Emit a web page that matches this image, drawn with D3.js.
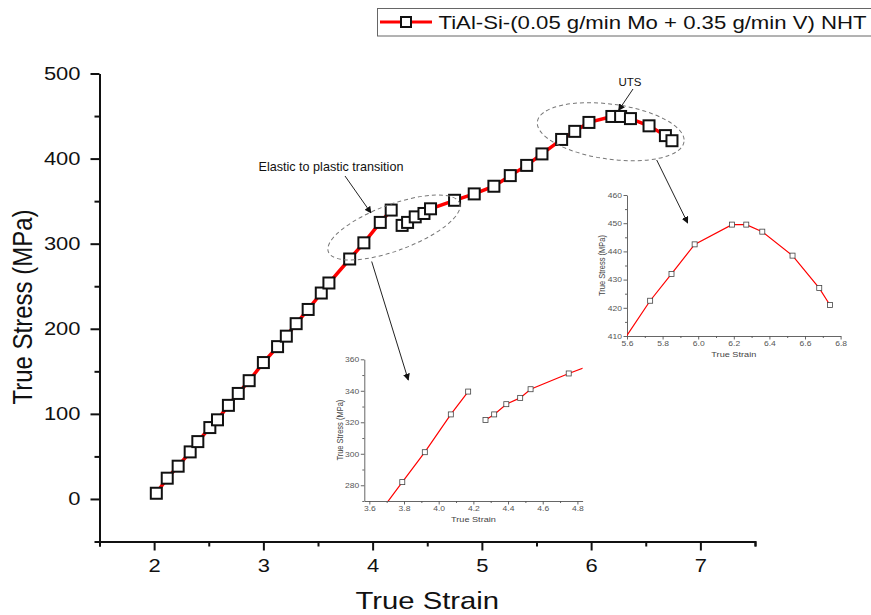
<!DOCTYPE html>
<html><head><meta charset="utf-8">
<script src="https://cdn.jsdelivr.net/npm/d3@7"></script>
<style>
body{margin:0;background:#fff}
svg{display:block}
text{font-family:Arial,"Liberation Sans",sans-serif}
</style>
</head><body>
<svg id="c" width="871" height="615"></svg>
<script>
// ---- data (null marks the break in the curve) ----
const strain = [2.02,2.12,2.22,2.33,2.40,2.51,2.58,2.68,2.77,2.87,3.00,3.13,3.21,3.30,3.41,3.53,3.60,3.79,3.92,4.07,4.17,null,4.27,4.32,4.39,4.47,4.53,4.75,4.93,5.11,5.26,5.41,5.55,5.73,5.85,5.98,6.19,6.27,6.36,6.53,6.68,6.74];
const stress = [6.7,24.4,38.5,55.3,67.4,83.9,93,110,124,139,160.3,179,191.3,206,222.7,242,253.8,282,301,325,339.5,null,321.5,325,331.5,335.5,341,351,358.5,367.5,380,392,405.5,422.5,432,442.5,449.5,449.5,447,438.5,427,421];
const seriesName = "TiAl-Si-(0.05 g/min Mo + 0.35 g/min V) NHT";
const xTicks = [2,3,4,5,6,7];
const xMinor = [1.5,2.5,3.5,4.5,5.5,6.5,7.5];
const yTicks = [0,100,200,300,400,500];
const yMinor = [-50,50,150,250,350,450];
const xTitle = "True Strain";
const yTitle = "True Stress (MPa)";
const inset1XTicks = [3.6,3.8,4.0,4.2,4.4,4.6,4.8];
const inset1YTicks = [280,300,320,340,360];
const inset2XTicks = [5.6,5.8,6.0,6.2,6.4,6.6,6.8];
const inset2YTicks = [410,420,430,440,450,460];
const note1 = "Elastic to plastic transition";
const note2 = "UTS";

const data = strain.map((s,i)=>({x:s,y:stress[i]}));
const pts = data.filter(d=>d.x!=null && d.y!=null);
const SX = 1.22; // horizontal stretch of the original picture's text

const svg = d3.select("#c");
const defs = svg.append("defs");
defs.append("marker").attr("id","ah").attr("viewBox","0 0 10 10").attr("refX",9).attr("refY",5)
  .attr("markerWidth",7).attr("markerHeight",7).attr("orient","auto").attr("markerUnits","userSpaceOnUse")
  .append("path").attr("d","M0,0L10,5L0,10Z").attr("fill","#111");

function txt(g,x,y,s,size,anchor,opts={}){
  const t = g.append("text").attr("font-size",size).attr("text-anchor",anchor||"start").attr("fill",opts.fill||"#111").text(s);
  let tr = `translate(${x},${y}) scale(${opts.sx||SX},1)`;
  if(opts.rot) tr += ` rotate(${opts.rot})`;
  t.attr("transform",tr);
  return t;
}

// ---- main scales ----
const x = d3.scaleLinear([1.5,7.5],[99.5,755]);
const y = d3.scaleLinear([-50,500],[541.5,73.5]);

// axes
const gx = svg.append("g").attr("transform",`translate(0,${y(-50)})`);
gx.call(d3.axisBottom(x).tickValues(xMinor).tickSize(5).tickSizeOuter(5).tickFormat(""));
const gx2 = svg.append("g").attr("transform",`translate(0,${y(-50)})`);
gx2.call(d3.axisBottom(x).tickValues(xTicks).tickSize(9).tickSizeOuter(0).tickPadding(9).tickFormat(d3.format("d")));
gx2.select(".domain").remove();
gx2.selectAll("text").attr("font-size",18).attr("fill","#111").attr("font-family","Arial,'Liberation Sans',sans-serif").attr("transform",`scale(${SX},1)`);

const gy = svg.append("g").attr("transform",`translate(${x(1.5)},0)`);
gy.call(d3.axisLeft(y).tickValues(yMinor).tickSize(5).tickSizeOuter(0).tickFormat(""));
const gy2 = svg.append("g").attr("transform",`translate(${x(1.5)},0)`);
gy2.call(d3.axisLeft(y).tickValues(yTicks).tickSize(9).tickSizeOuter(0).tickFormat(d3.format("d")));
gy2.select(".domain").remove();
gy2.selectAll("text").attr("font-size",18).attr("fill","#111").attr("font-family","Arial,'Liberation Sans',sans-serif")
  .attr("x",-19/SX).attr("transform",`scale(${SX},1)`);
[gx,gx2,gy,gy2].forEach(g=>{g.selectAll("path,line").attr("stroke","#111").attr("stroke-width",2);});

txt(svg,(x(1.5)+x(7.5))/2,609,xTitle,24,"middle");
txt(svg,32,307,yTitle,24,"middle",{rot:-90,sx:1.12});

// ---- main series ----
const line = d3.line().defined(d=>d.x!=null&&d.y!=null).x(d=>x(d.x)).y(d=>y(d.y));
svg.append("path").datum(data).attr("d",line).attr("fill","none").attr("stroke","#f00").attr("stroke-width",3.5);
const MS = 11;
svg.append("g").selectAll("rect").data(pts).join("rect")
  .attr("x",d=>x(d.x)-MS/2).attr("y",d=>y(d.y)-MS/2).attr("width",MS).attr("height",MS)
  .attr("fill","#fff").attr("stroke","#111").attr("stroke-width",2);

// ---- ellipses & annotations ----
const ann = svg.append("g");
ann.append("ellipse").attr("cx",394).attr("cy",227.5).attr("rx",70).attr("ry",23)
  .attr("transform","rotate(-20.3,394,227.5)").attr("fill","none").attr("stroke","#777").attr("stroke-width",1).attr("stroke-dasharray","4,3");
ann.append("ellipse").attr("cx",610.7).attr("cy",131.7).attr("rx",74).attr("ry",27.5)
  .attr("transform","rotate(7.8,610.7,131.7)").attr("fill","none").attr("stroke","#777").attr("stroke-width",1).attr("stroke-dasharray","4,3");
txt(ann,258.5,171,note1,12.6,"start",{sx:1.0});
txt(ann,618.5,86,note2,11.5,"start",{sx:1.0});
const arrows = [[345,176,371,213],[633,89,618.5,110.5],[371.7,261.5,408.3,380],[656.7,160,687.7,223]];
ann.selectAll("line.a").data(arrows).join("line").attr("class","a")
  .attr("x1",d=>d[0]).attr("y1",d=>d[1]).attr("x2",d=>d[2]).attr("y2",d=>d[3])
  .attr("stroke","#222").attr("stroke-width",1).attr("marker-end","url(#ah)");

// ---- insets ----
function inset(id,xd,xr,yd,yr,xt,yt,fmtX,fmtY,xMinorStep,yMinorStep,xLab,yLab){
  const ix = d3.scaleLinear(xd,xr), iy = d3.scaleLinear(yd,yr);
  const g = svg.append("g");
  defs.append("clipPath").attr("id",id).append("rect")
    .attr("x",xr[0]).attr("y",yr[1]).attr("width",xr[1]-xr[0]).attr("height",yr[0]-yr[1]);
  const xm = d3.range(xt[0]-xMinorStep, xt[xt.length-1]+xMinorStep*1.01, xMinorStep*2).map(v=>+(v).toFixed(3)).filter(v=>v>=xd[0]&&v<=xd[1]);
  const ym = d3.range(yt[0]-yMinorStep, yt[yt.length-1]+yMinorStep*1.01, yMinorStep*2).filter(v=>v>=yd[0]&&v<=yd[1]);
  const ax = g.append("g").attr("transform",`translate(0,${yr[0]})`);
  ax.call(d3.axisBottom(ix).tickValues(xm).tickSize(2).tickSizeOuter(0).tickFormat(""));
  const ax2 = g.append("g").attr("transform",`translate(0,${yr[0]})`);
  ax2.call(d3.axisBottom(ix).tickValues(xt).tickSize(3.5).tickSizeOuter(0).tickPadding(2).tickFormat(d3.format(fmtX)));
  ax2.select(".domain").remove();
  const ay = g.append("g").attr("transform",`translate(${xr[0]},0)`);
  ay.call(d3.axisLeft(iy).tickValues(ym).tickSize(2).tickSizeOuter(0).tickFormat(""));
  const ay2 = g.append("g").attr("transform",`translate(${xr[0]},0)`);
  ay2.call(d3.axisLeft(iy).tickValues(yt).tickSize(3.5).tickSizeOuter(0).tickPadding(2).tickFormat(d3.format(fmtY)));
  ay2.select(".domain").remove();
  [ax,ax2,ay,ay2].forEach(a=>{a.selectAll("path,line").attr("stroke","#555").attr("stroke-width",0.9);
    a.selectAll("text").attr("font-size",7).attr("fill","#555").attr("font-family","Arial,'Liberation Sans',sans-serif").attr("transform",`scale(${SX},1)`);});
  ay2.selectAll("text").attr("x",-5/SX);
  txt(g,(xr[0]+xr[1])/2,xLab[1],xTitle,7.5,"middle",{fill:"#444"});
  txt(g,yLab[0],(yr[0]+yr[1])/2,yTitle,7.5,"middle",{fill:"#444",rot:-90,sx:1.1});
  const il = d3.line().defined(d=>d.x!=null&&d.y!=null).x(d=>ix(d.x)).y(d=>iy(d.y));
  const pg = g.append("g").attr("clip-path",`url(#${id})`);
  pg.append("path").datum(data).attr("d",il).attr("fill","none").attr("stroke","#f00").attr("stroke-width",1.2);
  const s = 5;
  g.append("g").selectAll("rect").data(pts.filter(d=>d.x>=xd[0]&&d.x<=xd[1]&&d.y>=yd[0]&&d.y<=yd[1])).join("rect")
    .attr("x",d=>ix(d.x)-s/2).attr("y",d=>iy(d.y)-s/2).attr("width",s).attr("height",s)
    .attr("fill","#fff").attr("stroke","#444").attr("stroke-width",0.8);
}
inset("c1",[3.571,4.83],[364.3,582.6],[270,360],[501,359.3],inset1XTicks,inset1YTicks,".1f","d",0.1,10,[0,522],[343]);
inset("c2",[5.6,6.8],[627,840.6],[410,460],[336,195],inset2XTicks,inset2YTicks,".1f","d",0.1,5,[0,357],[605]);

// ---- legend ----
const lg = svg.append("g");
lg.append("rect").attr("x",377.5).attr("y",8.5).attr("width",520).attr("height",27.5).attr("fill","#fff").attr("stroke","#666").attr("stroke-width",1);
lg.append("line").attr("x1",380).attr("x2",432).attr("y1",22).attr("y2",22).attr("stroke","#f00").attr("stroke-width",3);
lg.append("rect").attr("x",406-5).attr("y",22-5).attr("width",10).attr("height",10).attr("fill","#fff").attr("stroke","#111").attr("stroke-width",2);
lg.append("text").attr("x",438.5).attr("y",28.5).attr("font-size",18).attr("fill","#111")
  .attr("textLength",428).attr("lengthAdjust","spacingAndGlyphs").text(seriesName);
</script>
</body></html>
